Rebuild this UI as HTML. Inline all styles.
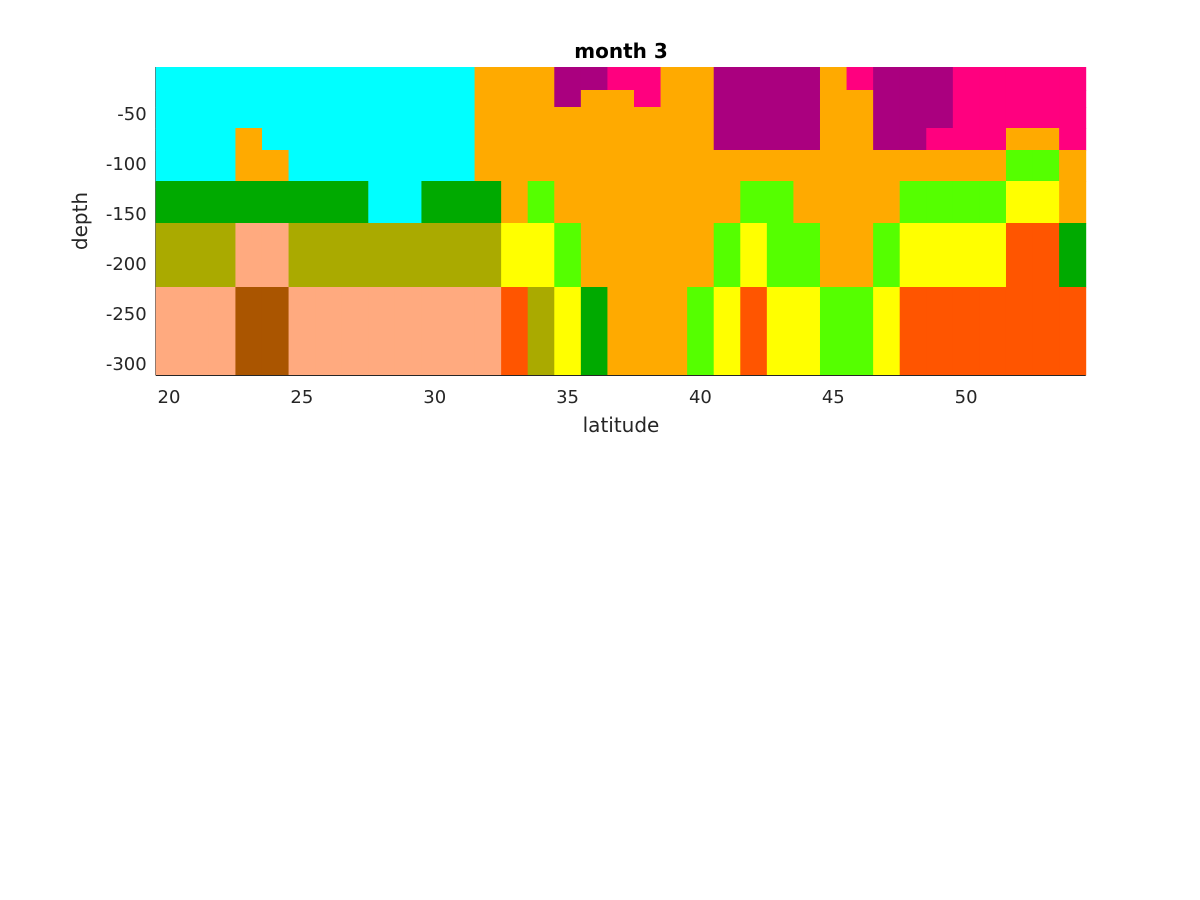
<!DOCTYPE html>
<html><head><meta charset="utf-8"><style>body{margin:0;background:#fff}svg{display:block}</style></head>
<body>
<svg id="chart" width="1200" height="900" xmlns="http://www.w3.org/2000/svg" font-family="DejaVu Sans, Liberation Sans, sans-serif">
<rect width="1200" height="900" fill="#fff"/>
<g id="axes"></g>
<g id="cells"></g>
<g id="axes2"></g>
<text x="621" y="58" text-anchor="middle" font-size="20" font-weight="bold" fill="#000">month 3</text>
<text x="621" y="432" text-anchor="middle" font-size="20" fill="#262626">latitude</text>
<text transform="translate(87,221) rotate(-90)" text-anchor="middle" font-size="20" fill="#262626">depth</text>
</svg>
<script>
const latitudes = [20,21,22,23,24,25,26,27,28,29,30,31,32,33,34,35,36,37,38,39,40,41,42,43,44,45,46,47,48,49,50,51,52,53,54];
const depthEdges = [-4,-27,-44,-65,-87,-118,-160,-224,-312];
const palette = {C:"#00ffff",O:"#ffaa00",P:"#aa007f",M:"#ff007f",G:"#00aa00",L:"#55ff00",Y:"#ffff00",K:"#aaaa00",S:"#ffaa7f",B:"#aa5500",R:"#ff5500"};
const rows = [
"CCCCCCCCCCCCOOOPPMMOOPPPPOMPPPMMMMM",
"CCCCCCCCCCCCOOOPOOMOOPPPPOOPPPMMMMM",
"CCCCCCCCCCCCOOOOOOOOOPPPPOOPPPMMMMM",
"CCCOCCCCCCCCOOOOOOOOOPPPPOOPPMMMOOM",
"CCCOOCCCCCCCOOOOOOOOOOOOOOOOOOOOLLO",
"GGGGGGGGCCGGGOLOOOOOOOLLOOOOLLLLYYO",
"KKKSSKKKKKKKKYYLOOOOOLYLLOOLYYYYRRG",
"SSSBBSSSSSSSSRKYGOOOLYRYYLLYRRRRRRR"];
const xTicks = [20,25,30,35,40,45,50];
const yTicks = [-50,-100,-150,-200,-250,-300];

const NS="http://www.w3.org/2000/svg";
const xs = lat => 169 + (lat-20)*26.571;
const ys = d => 63 - d;
const cells=document.getElementById('cells');
rows.forEach((row,r)=>{
  for(let c=0;c<row.length;c++){
    const el=document.createElementNS(NS,'rect');
    const x0=xs(latitudes[c]-0.5), x1=xs(latitudes[c]+0.5);
    const y0=ys(depthEdges[r]), y1=ys(depthEdges[r+1]);
    el.setAttribute('x',x0);el.setAttribute('y',y0);
    el.setAttribute('width',x1-x0+0.5);el.setAttribute('height',y1-y0+0.5);
    el.setAttribute('fill',palette[row[c]]);
    
    
    cells.appendChild(el);
  }
});
const axes=document.getElementById('axes');
const axes2=document.getElementById('axes2');
const x0=xs(latitudes[0]-0.5), x1=xs(latitudes[latitudes.length-1]+0.5);
const yb=ys(depthEdges[depthEdges.length-1]), yt=ys(depthEdges[0]);
function line(g,a,b,c,d,name){const l=document.createElementNS(NS,'line');l.setAttribute('x1',a);l.setAttribute('y1',b);l.setAttribute('x2',c);l.setAttribute('y2',d);l.setAttribute('stroke','#262626');l.setAttribute('stroke-width','1');


g.appendChild(l);}
line(axes2,x0,yb+0.5,x1,yb+0.5,'x-axis-line');
line(axes,x0,yt,x0,yb,'y-axis-line');
xTicks.forEach(t=>{const x=xs(t);line(axes,x,yb,x,yb-9,'x-tick');
  const tx=document.createElementNS(NS,'text');tx.setAttribute('x',x);tx.setAttribute('y',yb+28);tx.setAttribute('text-anchor','middle');tx.setAttribute('font-size','18');tx.setAttribute('fill','#262626');tx.textContent=t;
  
  
  axes2.appendChild(tx);});
yTicks.forEach(t=>{const y=ys(t);line(axes,x0,y,x0+9,y,'y-tick');
  const tx=document.createElementNS(NS,'text');tx.setAttribute('x',x0-9);tx.setAttribute('y',y+7);tx.setAttribute('text-anchor','end');tx.setAttribute('font-size','18');tx.setAttribute('fill','#262626');tx.textContent=t;
  
  
  axes2.appendChild(tx);});
</script>
</body></html>
